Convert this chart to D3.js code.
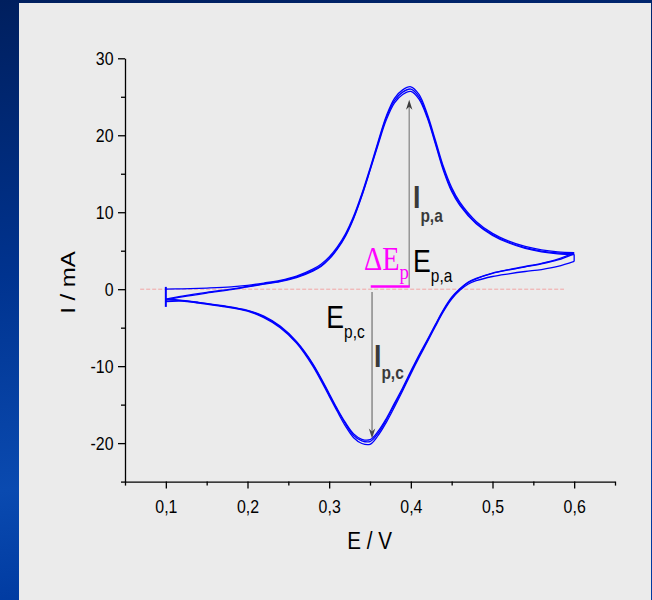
<!DOCTYPE html>
<html>
<head>
<meta charset="utf-8">
<script src="https://cdn.jsdelivr.net/npm/d3@7"></script>
<style>
  html, body { margin: 0; padding: 0; background: #002a78; }
  svg { display: block; }
</style>
</head>
<body>
<script>
// ---------------- DATA ----------------
// Potential grid of the anodic (forward) sweeps, V
const E_forward = [0.10, 0.12, 0.15, 0.18, 0.20, 0.22, 0.24, 0.26, 0.28, 0.29, 0.30, 0.31, 0.32, 0.33, 0.34, 0.35, 0.36, 0.37, 0.38, 0.39, 0.40, 0.41, 0.42, 0.43, 0.44, 0.45, 0.46, 0.48, 0.50, 0.52, 0.54, 0.56, 0.58, 0.60];
// Current of each forward sweep, mA
const I_forward_c1 = [0.0, 0.05, 0.15, 0.3, 0.5, 0.8, 1.15, 1.7, 2.6, 3.25, 4.2, 5.5, 7.2, 9.5, 12.4, 15.7, 19.2, 22.5, 24.8, 25.9, 26.3, 25.3, 22.8, 19.4, 15.9, 13.2, 11.3, 8.8, 7.25, 6.25, 5.55, 5.1, 4.85, 4.75];
const I_forward_c2 = [-1.3, -0.9, -0.4, 0.0, 0.35, 0.7, 1.05, 1.6, 2.45, 3.05, 4.0, 5.3, 7.0, 9.3, 12.2, 15.5, 19.0, 22.3, 24.5, 25.6, 26.0, 25.0, 22.5, 19.1, 15.6, 12.9, 11.1, 8.6, 7.1, 6.1, 5.4, 4.95, 4.7, 4.6];
const I_forward_c3 = [-1.4, -1.0, -0.5, -0.05, 0.3, 0.65, 1.0, 1.5, 2.35, 2.95, 3.9, 5.2, 6.9, 9.2, 12.1, 15.4, 18.8, 22.0, 24.2, 25.3, 25.7, 24.7, 22.3, 18.9, 15.4, 12.7, 10.9, 8.5, 7.0, 6.0, 5.3, 4.85, 4.6, 4.5];

// Potential grid of the cathodic (reverse) sweeps, V
const E_reverse = [0.60, 0.58, 0.56, 0.54, 0.52, 0.50, 0.48, 0.47, 0.46, 0.45, 0.44, 0.43, 0.42, 0.41, 0.40, 0.39, 0.38, 0.37, 0.36, 0.35, 0.34, 0.33, 0.32, 0.31, 0.30, 0.28, 0.26, 0.24, 0.22, 0.20, 0.17, 0.14, 0.12, 0.10];
const I_reverse_c1 = [4.75, 3.9, 3.35, 2.95, 2.55, 2.1, 1.4, 0.9, 0.05, -1.05, -2.65, -4.6, -6.6, -8.55, -10.65, -12.8, -14.8, -16.8, -18.45, -19.55, -19.5, -18.8, -17.35, -15.55, -13.55, -9.7, -6.8, -4.8, -3.5, -2.75, -2.15, -1.7, -1.45, -1.3];
const I_reverse_c2 = [4.6, 3.8, 3.3, 2.9, 2.5, 2.05, 1.35, 0.85, 0.0, -1.15, -2.75, -4.7, -6.75, -8.7, -10.8, -13.0, -15.0, -17.0, -18.7, -19.8, -19.7, -19.0, -17.5, -15.7, -13.7, -9.8, -6.9, -4.9, -3.6, -2.8, -2.2, -1.75, -1.5, -1.4];
const I_reverse_c3 = [3.6, 2.95, 2.55, 2.3, 2.0, 1.65, 1.1, 0.65, -0.15, -1.3, -2.9, -4.85, -6.9, -8.9, -11.0, -13.2, -15.3, -17.3, -19.0, -20.15, -20.05, -19.3, -17.8, -15.9, -13.9, -10.0, -7.0, -5.0, -3.7, -2.85, -2.25, -1.8, -1.55, -1.6];

// Vertical switching segment at the start potential: [E, I_top, I_bottom]
const switchSegment = [0.10, 0.3, -2.3];

// Annotation values
const peakAnodic = { E: 0.398, I: 24.6 };    // arrow tip Ip,a
const peakCathodic = { E: 0.3525, I: -19.4 }; // arrow tip Ip,c
const baseI = 0.35;                           // base line of the arrows (ΔEp bar)
const cathodicStartI = -0.35;
const zeroLine = { E0: 0.0686, E1: 0.5875, I: 0 };

// Axes
const xMajor = [0.1, 0.2, 0.3, 0.4, 0.5, 0.6];
const xMajorLabels = ["0,1", "0,2", "0,3", "0,4", "0,5", "0,6"];
const xMinor = [0.05, 0.15, 0.25, 0.35, 0.45, 0.55, 0.65];
const yMajor = [-20, -10, 0, 10, 20, 30];
const yMajorLabels = ["-20", "-10", "0", "10", "20", "30"];
const yMinor = [-25, -15, -5, 5, 15, 25];

// ---------------- DRAWING ----------------
const W = 652, H = 600;
const SX = 0.86; // horizontal text compression
const sans = "'Liberation Sans', Arial, sans-serif";
const serif = "'Liberation Serif', 'Times New Roman', serif";

const svg = d3.select("body").append("svg").attr("width", W).attr("height", H);
const defs = svg.append("defs");
const grad = defs.append("linearGradient").attr("id", "bg").attr("x1", 0).attr("y1", 0).attr("x2", 0.15).attr("y2", 1);
grad.append("stop").attr("offset", "0%").attr("stop-color", "#001f5e");
grad.append("stop").attr("offset", "45%").attr("stop-color", "#00338f");
grad.append("stop").attr("offset", "80%").attr("stop-color", "#0a4ab0");
grad.append("stop").attr("offset", "100%").attr("stop-color", "#003aa0");
svg.append("rect").attr("width", W).attr("height", H).attr("fill", "url(#bg)");
svg.append("rect").attr("x", 19).attr("y", 3).attr("width", 632).attr("height", 597).attr("fill", "#ebebeb");

const x = d3.scaleLinear().domain([0.05, 0.65]).range([125, 615]);
const y = d3.scaleLinear().domain([-25, 30]).range([481.6, 58.3]);

// zero dashed line
svg.append("line")
  .attr("x1", x(zeroLine.E0)).attr("x2", x(zeroLine.E1))
  .attr("y1", y(zeroLine.I)).attr("y2", y(zeroLine.I))
  .attr("stroke", "#f2a4a4").attr("stroke-width", 1).attr("stroke-dasharray", "4,2");

// axes
const gx = svg.append("g").attr("transform", `translate(0,${y(-25)})`)
  .call(d3.axisBottom(x).tickValues(xMajor).tickSize(7).tickSizeOuter(0)
    .tickFormat((d, i) => xMajorLabels[i]));
svg.append("g").attr("transform", `translate(0,${y(-25)})`)
  .call(d3.axisBottom(x).tickValues(xMinor).tickSize(4).tickFormat(""))
  .call(g => g.select(".domain").remove());
const gy = svg.append("g").attr("transform", `translate(${x(0.05)},0)`)
  .call(d3.axisLeft(y).tickValues(yMajor).tickSize(7).tickSizeOuter(0)
    .tickFormat((d, i) => yMajorLabels[i]));
svg.append("g").attr("transform", `translate(${x(0.05)},0)`)
  .call(d3.axisLeft(y).tickValues(yMinor).tickSize(4).tickFormat(""))
  .call(g => g.select(".domain").remove());

svg.selectAll(".domain, .tick line").attr("stroke", "#000").attr("stroke-width", 1.3);
gx.selectAll(".tick text")
  .attr("font-family", sans).attr("font-size", 18.5).attr("fill", "#000")
  .attr("y", 31).attr("dy", 0).attr("transform", `scale(${SX},1)`);
gy.selectAll(".tick text")
  .attr("font-family", sans).attr("font-size", 18.5).attr("fill", "#000")
  .attr("x", -13.4).attr("dy", "0.35em").attr("transform", `scale(${SX},1)`);

// axis titles
svg.append("text").text("E / V")
  .attr("transform", `translate(369.7,549) scale(${SX},1)`)
  .attr("text-anchor", "middle").attr("font-family", sans).attr("font-size", 24).attr("fill", "#000");
svg.append("text").text("I / mA")
  .attr("transform", `translate(75,282.5) scale(${SX},1) rotate(-90)`)
  .attr("text-anchor", "middle").attr("font-family", sans).attr("font-size", 24).attr("fill", "#000");

// curves
const line = d3.line().x(d => x(d[0])).y(d => y(d[1])).curve(d3.curveCatmullRom.alpha(0.5));
const forwards = [I_forward_c1, I_forward_c2, I_forward_c3];
const reverses = [I_reverse_c1, I_reverse_c2, I_reverse_c3];
const curveG = svg.append("g").attr("fill", "none").attr("stroke", "#0000ff").attr("stroke-width", 1.3);
forwards.forEach(arr => curveG.append("path").attr("d", line(E_forward.map((e, i) => [e, arr[i]]))));
reverses.forEach(arr => curveG.append("path").attr("d", line(E_reverse.map((e, i) => [e, arr[i]]))));
// connect the sweeps at the switching potential
forwards.forEach((f, k) => {
  curveG.append("line")
    .attr("x1", x(E_forward[E_forward.length - 1])).attr("y1", y(f[f.length - 1]))
    .attr("x2", x(E_reverse[0])).attr("y2", y(reverses[k][0]));
});
curveG.append("line")
  .attr("x1", x(switchSegment[0])).attr("x2", x(switchSegment[0]))
  .attr("y1", y(switchSegment[1])).attr("y2", y(switchSegment[2]))
  .attr("stroke-width", 2);

// arrows
function arrow(E, I0, I1, lineColor, headColor) {
  const xp = x(E), y0 = y(I0), y1 = y(I1);
  const dir = Math.sign(y1 - y0); // +1 down, -1 up
  const hl = 10, hw = 3.2;
  svg.append("line").attr("x1", xp).attr("x2", xp).attr("y1", y0).attr("y2", y1 - dir * hl * 0.6)
    .attr("stroke", lineColor).attr("stroke-width", 1.3);
  svg.append("path")
    .attr("d", `M${xp},${y1} L${xp - hw},${y1 - dir * hl} L${xp},${y1 - dir * hl * 0.7} L${xp + hw},${y1 - dir * hl} Z`)
    .attr("fill", headColor);
}
arrow(peakAnodic.E, baseI, peakAnodic.I, "#8a8a8a", "#3c3c3c");
arrow(peakCathodic.E, cathodicStartI, peakCathodic.I, "#7a7a7a", "#4a4a4a");

// ΔEp bar
svg.append("line")
  .attr("x1", x(peakCathodic.E) - 1.3).attr("x2", x(peakAnodic.E) + 0.6)
  .attr("y1", y(baseI)).attr("y2", y(baseI))
  .attr("stroke", "#ff00ff").attr("stroke-width", 2.6);

// labels
function label(px, py, main, sub, o) {
  const t = svg.append("text")
    .attr("transform", `translate(${px},${py}) scale(${SX},1)`)
    .attr("font-family", o.family).attr("font-weight", o.weight || "normal")
    .attr("fill", o.color).attr("font-size", o.size);
  t.append("tspan").text(main);
  t.append("tspan").text(sub).attr("font-size", o.subSize).attr("dy", o.dy);
}
label(364, 270, "ΔE", "p", { family: serif, color: "#ff00ff", size: 33, subSize: 22, dy: 9 });
label(413, 271.7, "E", "p,a", { family: sans, color: "#000", size: 31, subSize: 18, dy: 10 });
label(326.3, 328.3, "E", "p,c", { family: sans, color: "#000", size: 31, subSize: 18, dy: 9.5 });
label(413, 208.3, "I", "p,a", { family: sans, weight: "bold", color: "#3a3a3a", size: 31, subSize: 18, dy: 14 });
label(374, 366.7, "I", "p,c", { family: sans, weight: "bold", color: "#3a3a3a", size: 31, subSize: 18, dy: 12 });
</script>
</body>
</html>
